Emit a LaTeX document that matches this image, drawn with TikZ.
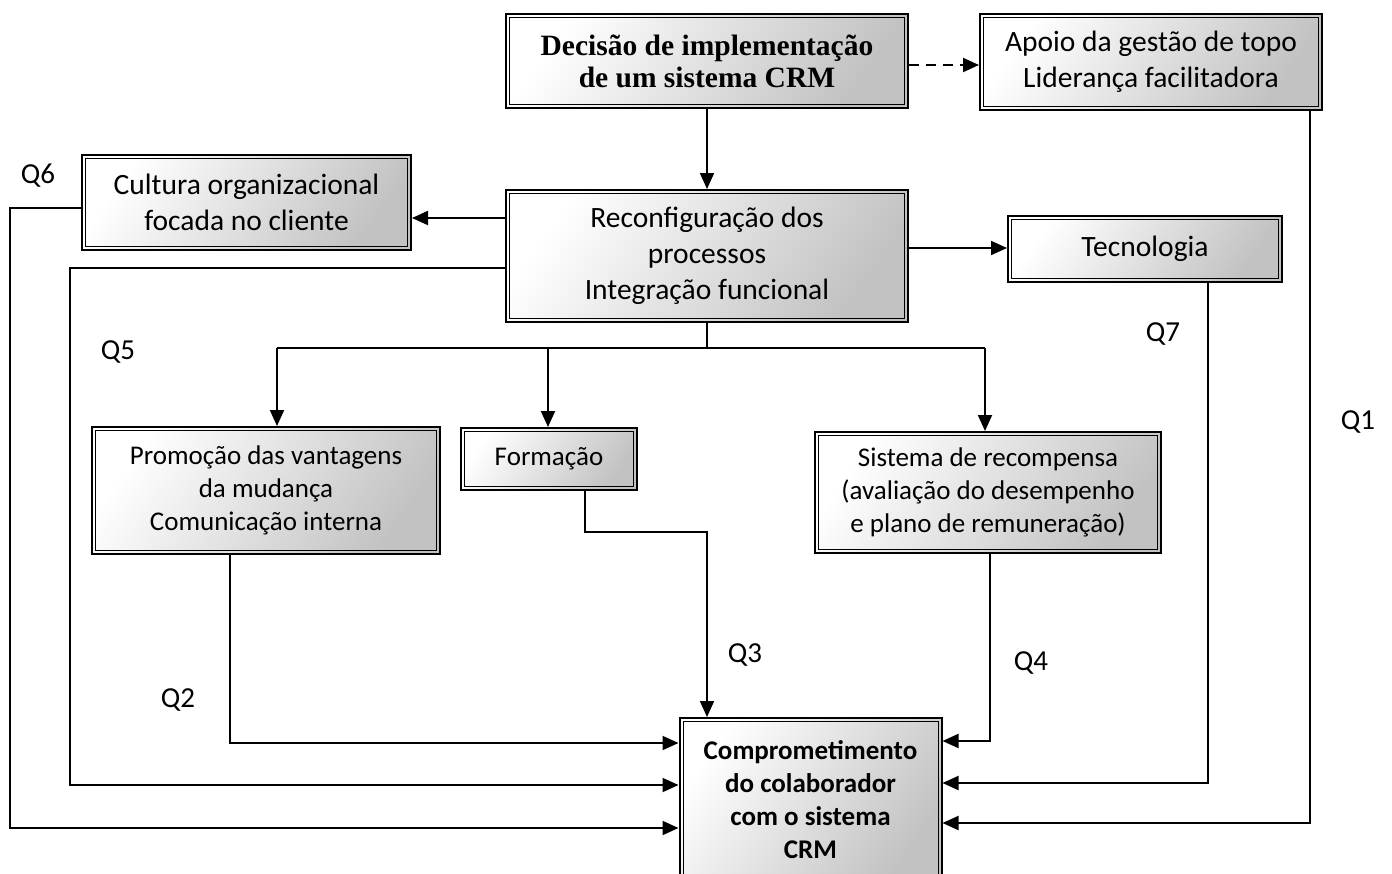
\documentclass[tikz,border=0pt]{standalone}
\usepackage{fontspec}
\setmainfont{Carlito}
\newfontfamily\timesb{Liberation Serif}
\usetikzlibrary{arrows.meta}
\tikzset{
  dbox/.style={draw, line width=2pt, align=center, inner sep=0pt,
    top color=white, bottom color=black!24, shading angle=55,
    path picture={\draw[line width=0.9pt]
      ([shift={(3.5pt,-3.5pt)}]path picture bounding box.north west) rectangle
      ([shift={(-3.5pt,3.5pt)}]path picture bounding box.south east);}},
  big/.style={font=\fontsize{29.5}{36}\selectfont},
  small/.style={font=\fontsize{27}{33}\selectfont},
  qlab/.style={font=\fontsize{29}{36}\selectfont},
  conn/.style={line width=2pt, -{Triangle[length=16pt,width=14pt]}},
  plain/.style={line width=2pt},
}
\begin{document}
\begin{tikzpicture}[x=1pt,y=-1pt]
\useasboundingbox (0,0) rectangle (1392,873);
\fill[white] (0,0) rectangle (1392,873);
\begin{scope}
\clip (0,0) rectangle (1392,873);
\node[dbox, minimum width=402pt, minimum height=94pt,
  font=\timesb\bfseries\fontsize{29.5}{32}\selectfont] (dec) at (707,61)
  {Decisão de implementação\\de um sistema CRM};
\node[dbox, big, minimum width=342pt, minimum height=96pt] (apoio) at (1151,62)
  {Apoio da gestão de topo\\Liderança facilitadora};
\node[dbox, big, minimum width=329pt, minimum height=95pt] (cult) at (246.5,202.5)
  {Cultura organizacional\\focada no cliente};
\node[dbox, big, minimum width=402pt, minimum height=132pt] (rec) at (707,256)
  {Reconfiguração dos\\processos\\Integração funcional};
\node[dbox, big, minimum width=274pt, minimum height=66pt] (tec) at (1145,249)
  {Tecnologia};
\node[dbox, small, minimum width=348pt, minimum height=127pt] (prom) at (266,490.5)
  {Promoção das vantagens\\da mudança\\Comunicação interna};
\node[dbox, small, minimum width=176pt, minimum height=62pt] (form) at (549,459)
  {Formação};
\node[dbox, small, minimum width=346pt, minimum height=121pt] (sis) at (988,492.5)
  {Sistema de recompensa\\(avaliação do desempenho\\e plano de remuneração)};
\node[dbox, small, font=\fontsize{27}{33}\selectfont\bfseries, minimum width=262pt, minimum height=164pt] (comp) at (810.5,800)
  {Comprometimento\\do colaborador\\com o sistema\\CRM};
\end{scope}

% connectors
\draw[conn] (dec.south) -- (rec.north);
\draw[conn, dashed, dash pattern=on 10pt off 7pt] (dec.east |- 0,65) -- (apoio.west |- 0,65);
\draw[conn] (rec.west |- 0,218) -- (cult.east |- 0,218);
\draw[conn] (rec.east |- 0,248) -- (tec.west |- 0,248);

\coordinate (split) at (707,348);
\draw[plain] (rec.south) -- (split);
\draw[plain] (277,348) -- (985,348);
\draw[conn] (277,348) -- (prom.north -| 277,0);
\draw[conn] (548,348) -- (form.north -| 548,0);
\draw[conn] (985,348) -- (sis.north -| 985,0);

\draw[conn] (cult.west |- 0,208) -- (10,208) -- (10,828) -- (comp.west |- 0,828);
\draw[conn] (rec.west |- 0,268) -- (70,268) -- (70,785) -- (comp.west |- 0,785);
\draw[conn] (prom.south -| 230,0) -- (230,743) -- (comp.west |- 0,743);
\draw[conn] (form.south -| 585,0) -- (585,532) -- (707,532) -- (comp.north -| 707,0);
\draw[conn] (sis.south -| 990,0) -- (990,741) -- (comp.east |- 0,741);
\draw[conn] (tec.south -| 1208,0) -- (1208,783) -- (comp.east |- 0,783);
\draw[conn] (apoio.south -| 1310,0) -- (1310,823) -- (comp.east |- 0,823);

% labels
\node[qlab] (q6) at (38,176) {Q6};
\node[qlab] (q5) at (118,352) {Q5};
\node[qlab] (q2) at (178,700) {Q2};
\node[qlab] (q3) at (745,655) {Q3};
\node[qlab] (q4) at (1031,663) {Q4};
\node[qlab] (q7) at (1163,334) {Q7};
\node[qlab] (q1) at (1358,422) {Q1};
\end{tikzpicture}
\end{document}
